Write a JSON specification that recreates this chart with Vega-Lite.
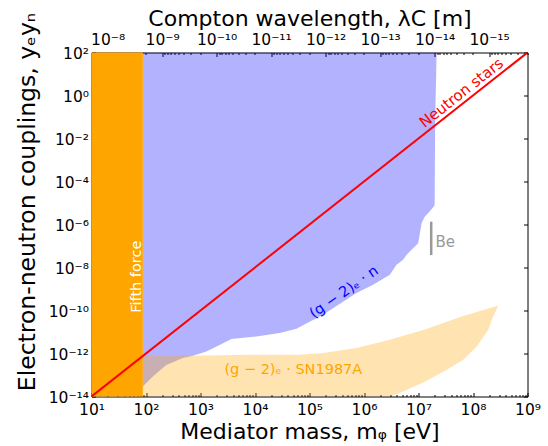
{
  "$schema": "https://vega.github.io/schema/vega-lite/v6.json",
  "width": 436,
  "height": 344,
  "autosize": {"type": "none"},
  "padding": {"left": 91.5, "top": 52.5, "right": 20.5, "bottom": 49.5},
  "config": {
    "font": "DejaVu Sans",
    "view": {"stroke": "black", "strokeWidth": 1},
    "axis": {
      "domain": false, "grid": false, "tickColor": "black", "tickWidth": 1,
      "labelColor": "black", "labelFont": "DejaVu Sans", "labelFontSize": 15.5,
      "titleFont": "DejaVu Sans", "titleFontSize": 22, "titleFontWeight": "normal", "titleColor": "black",
      "labelFlush": false, "labelOverlap": false, "labelBound": false
    }
  },
  "datasets": {
    "blue": [
      {"m": 87.5, "c": 2.95e-14, "c2": 100},
      {"m": 133.7, "c": 8.5e-14, "c2": 100},
      {"m": 235.5, "c": 2.95e-13, "c2": 100},
      {"m": 475, "c": 6.2e-13, "c2": 100},
      {"m": 726, "c": 7.8e-13, "c2": 100},
      {"m": 1279, "c": 1.23e-12, "c2": 100},
      {"m": 2244, "c": 2.5e-12, "c2": 100},
      {"m": 3681, "c": 4.7e-12, "c2": 100},
      {"m": 10600, "c": 6.2e-12, "c2": 100},
      {"m": 28400, "c": 8.9e-12, "c2": 100},
      {"m": 57500, "c": 1.41e-11, "c2": 100},
      {"m": 177000, "c": 6.3e-11, "c2": 100},
      {"m": 728000, "c": 6.5e-10, "c2": 100},
      {"m": 1470000, "c": 1.58e-9, "c2": 100},
      {"m": 2980000, "c": 4.6e-9, "c2": 100},
      {"m": 3950000, "c": 1.35e-8, "c2": 100},
      {"m": 5220000, "c": 2.3e-8, "c2": 100},
      {"m": 6040000, "c": 3.9e-8, "c2": 100},
      {"m": 9860000, "c": 1.35e-7, "c2": 100},
      {"m": 11400000, "c": 1.17e-6, "c2": 100},
      {"m": 13100000, "c": 2.34e-6, "c2": 100},
      {"m": 15100000, "c": 3.4e-6, "c2": 100},
      {"m": 18000000, "c": 5.75e-6, "c2": 100},
      {"m": 19800000, "c": 7.9e-6, "c2": 100},
      {"m": 20200000, "c": 0.054, "c2": 100},
      {"m": 21500000, "c": 100, "c2": 100}
    ],
    "sn": [
      {"m": 87.5, "c": 1e-14, "c2": 7.8e-13},
      {"m": 631, "c": 1e-14, "c2": 7.8e-13},
      {"m": 7943, "c": 1e-14, "c2": 8.7e-13},
      {"m": 66000, "c": 1e-14, "c2": 8.7e-13},
      {"m": 178000, "c": 1e-14, "c2": 1.05e-12},
      {"m": 724000, "c": 1e-14, "c2": 1.78e-12},
      {"m": 2980000, "c": 1e-14, "c2": 4.4e-12},
      {"m": 4550000, "c": 1.45e-14, "c2": 6.0e-12},
      {"m": 13100000, "c": 4.8e-14, "c2": 1.32e-11},
      {"m": 33200000, "c": 1.74e-13, "c2": 3.0e-11},
      {"m": 66200000, "c": 5.1e-13, "c2": 5.5e-11},
      {"m": 117000000, "c": 2.14e-12, "c2": 8.5e-11},
      {"m": 190500000, "c": 1.26e-11, "c2": 1.23e-10},
      {"m": 235000000, "c": 5.2e-11, "c2": 1.41e-10},
      {"m": 287000000, "c": 1.58e-10, "c2": 1.66e-10}
    ]
  },
  "layer": [
    {
      "layer": [
        {
          "data": {"name": "blue"},
          "mark": {"type": "area", "color": "blue", "opacity": 0.3, "clip": true},
          "encoding": {
            "x": {"field": "m", "type": "quantitative",
              "scale": {"type": "log", "domain": [10, 1000000000]},
              "axis": {
                "orient": "bottom",
                "values": [10, 100, 1000, 10000, 100000, 1000000, 10000000, 100000000, 1000000000],
                "tickSize": -4, "labelPadding": 9.5, "labelBaseline": "top", "labelAlign": "center",
                "labelExpr": "'10' + replace(replace(replace(replace(replace(replace(replace(replace(replace(replace(replace('' + round(log(datum.value) / LN10), /-/g, '⁻'), /0/g, '⁰'), /1/g, '¹'), /2/g, '²'), /3/g, '³'), /4/g, '⁴'), /5/g, '⁵'), /6/g, '⁶'), /7/g, '⁷'), /8/g, '⁸'), /9/g, '⁹')",
                "title": "Mediator mass, mᵩ [eV]", "titleX": 218, "titleY": 42, "titleBaseline": "alphabetic", "titleAlign": "center"
              }
            },
            "y": {"field": "c", "type": "quantitative",
              "scale": {"type": "log", "domain": [1e-14, 100]},
              "axis": {
                "orient": "left",
                "values": [1e-14, 1e-12, 1e-10, 1e-8, 1e-6, 1e-4, 0.01, 1, 100],
                "tickSize": -4, "labelPadding": 7, "labelBaseline": "middle", "labelAlign": "right", "labelOffset": 1,
                "labelExpr": "'10' + replace(replace(replace(replace(replace(replace(replace(replace(replace(replace(replace('' + round(log(datum.value) / LN10), /-/g, '⁻'), /0/g, '⁰'), /1/g, '¹'), /2/g, '²'), /3/g, '³'), /4/g, '⁴'), /5/g, '⁵'), /6/g, '⁶'), /7/g, '⁷'), /8/g, '⁸'), /9/g, '⁹')",
                "title": "Electron-neutron couplings, yₑyₙ", "titleFontSize": 23.5, "titleX": -57.5, "titleY": 149, "titleAngle": 270,
                "titleAlign": "center", "titleBaseline": "alphabetic"
              }
            },
            "y2": {"field": "c2"}
          }
        },
        {
          "data": {"name": "sn"},
          "mark": {"type": "area", "color": "orange", "opacity": 0.3, "clip": true},
          "encoding": {
            "x": {"field": "m", "type": "quantitative"},
            "y": {"field": "c", "type": "quantitative"},
            "y2": {"field": "c2"}
          }
        },
        {
          "data": {"values": [{"m": 10, "m2": 87.5, "c": 1e-14, "c2": 100}]},
          "mark": {"type": "rect", "color": "#ffa500"},
          "encoding": {
            "x": {"field": "m", "type": "quantitative"},
            "x2": {"field": "m2"},
            "y": {"field": "c", "type": "quantitative"},
            "y2": {"field": "c2"}
          }
        },
        {
          "data": {"values": [{"m": 10, "c": 1e-14}, {"m": 1000000000, "c": 100}]},
          "mark": {"type": "line", "color": "red", "strokeWidth": 2, "clip": true},
          "encoding": {
            "x": {"field": "m", "type": "quantitative"},
            "y": {"field": "c", "type": "quantitative"}
          }
        },
        {
          "data": {"values": [{"m": 17100000, "c": 1.35e-6, "c2": 3.8e-8}]},
          "mark": {"type": "rule", "color": "#999999", "strokeWidth": 2.5},
          "encoding": {
            "x": {"field": "m", "type": "quantitative"},
            "y": {"field": "c", "type": "quantitative"},
            "y2": {"field": "c2"}
          }
        },
        {
          "data": {"values": [{"m": 61000000, "c": 1.34, "t": "Neutron stars"}]},
          "mark": {"type": "text", "color": "red", "fontSize": 15, "angle": 321.7, "align": "center", "baseline": "middle"},
          "encoding": {
            "x": {"field": "m", "type": "quantitative"},
            "y": {"field": "c", "type": "quantitative"},
            "text": {"field": "t"}
          }
        },
        {
          "data": {"values": [{"m": 67.3, "c": 3.73e-9, "t": "Fifth force"}]},
          "mark": {"type": "text", "color": "white", "fontSize": 14.5, "angle": 270, "align": "center", "baseline": "middle"},
          "encoding": {
            "x": {"field": "m", "type": "quantitative"},
            "y": {"field": "c", "type": "quantitative"},
            "text": {"field": "t"}
          }
        },
        {
          "data": {"values": [{"m": 434000, "c": 6.9e-10, "t": "(g − 2)ₑ · n"}]},
          "mark": {"type": "text", "color": "blue", "fontSize": 14.5, "angle": 325, "align": "center", "baseline": "middle"},
          "encoding": {
            "x": {"field": "m", "type": "quantitative"},
            "y": {"field": "c", "type": "quantitative"},
            "text": {"field": "t"}
          }
        },
        {
          "data": {"values": [{"m": 50500, "c": 1.71e-13, "t": "(g − 2)ₑ · SN1987A"}]},
          "mark": {"type": "text", "color": "orange", "fontSize": 14.5, "align": "center", "baseline": "middle"},
          "encoding": {
            "x": {"field": "m", "type": "quantitative"},
            "y": {"field": "c", "type": "quantitative"},
            "text": {"field": "t"}
          }
        },
        {
          "data": {"values": [{"m": 20500000, "c": 1.53e-7, "t": "Be"}]},
          "mark": {"type": "text", "color": "#999999", "fontSize": 15, "align": "left", "baseline": "middle"},
          "encoding": {
            "x": {"field": "m", "type": "quantitative"},
            "y": {"field": "c", "type": "quantitative"},
            "text": {"field": "t"}
          }
        }
      ]
    },
    {
      "data": {"values": [{"m": 100}]},
      "mark": {"type": "rule", "opacity": 0},
      "encoding": {
        "x": {"field": "m", "type": "quantitative",
          "scale": {"type": "log", "domain": [10, 1000000000]},
          "axis": {
            "orient": "bottom", "tickSize": -2, "labels": false, "title": null,
            "values": [20,30,40,50,60,70,80,90,200,300,400,500,600,700,800,900,2000,3000,4000,5000,6000,7000,8000,9000,20000,30000,40000,50000,60000,70000,80000,90000,200000,300000,400000,500000,600000,700000,800000,900000,2000000,3000000,4000000,5000000,6000000,7000000,8000000,9000000,20000000,30000000,40000000,50000000,60000000,70000000,80000000,90000000,200000000,300000000,400000000,500000000,600000000,700000000,800000000,900000000]
          }
        }
      }
    },
    {
      "data": {"values": [{"lam": 1e-10}]},
      "mark": {"type": "rule", "opacity": 0},
      "encoding": {
        "x": {"field": "lam", "type": "quantitative",
          "scale": {"type": "log", "domain": [1.973e-16, 1.973e-8], "reverse": true},
          "axis": {
            "orient": "top",
            "values": [1e-8, 1e-9, 1e-10, 1e-11, 1e-12, 1e-13, 1e-14, 1e-15],
            "tickSize": -4, "labelPadding": 12.5, "labelBaseline": "alphabetic", "labelAlign": "center",
            "labelExpr": "'10' + replace(replace(replace(replace(replace(replace(replace(replace(replace(replace(replace('' + round(log(datum.value) / LN10), /-/g, '⁻'), /0/g, '⁰'), /1/g, '¹'), /2/g, '²'), /3/g, '³'), /4/g, '⁴'), /5/g, '⁵'), /6/g, '⁶'), /7/g, '⁷'), /8/g, '⁸'), /9/g, '⁹')",
            "title": "Compton wavelength, λC [m]", "titleX": 218, "titleY": -27.5, "titleBaseline": "alphabetic", "titleAlign": "center"
          }
        }
      }
    },
    {
      "data": {"values": [{"lam": 1e-10}]},
      "mark": {"type": "rule", "opacity": 0},
      "encoding": {
        "x": {"field": "lam", "type": "quantitative",
          "scale": {"type": "log", "domain": [1.973e-16, 1.973e-8], "reverse": true},
          "axis": {
            "orient": "top", "tickSize": -2, "labels": false, "title": null,
            "values": [2e-16,3e-16,4e-16,5e-16,6e-16,7e-16,8e-16,9e-16,2e-15,3e-15,4e-15,5e-15,6e-15,7e-15,8e-15,9e-15,2e-14,3e-14,4e-14,5e-14,6e-14,7e-14,8e-14,9e-14,2e-13,3e-13,4e-13,5e-13,6e-13,7e-13,8e-13,9e-13,2e-12,3e-12,4e-12,5e-12,6e-12,7e-12,8e-12,9e-12,2e-11,3e-11,4e-11,5e-11,6e-11,7e-11,8e-11,9e-11,2e-10,3e-10,4e-10,5e-10,6e-10,7e-10,8e-10,9e-10,2e-9,3e-9,4e-9,5e-9,6e-9,7e-9,8e-9,9e-9]
          }
        }
      }
    },
    {
      "data": {"values": [{"c": 1}]},
      "mark": {"type": "rule", "opacity": 0},
      "encoding": {
        "y": {"field": "c", "type": "quantitative",
          "scale": {"type": "log", "domain": [1e-14, 100]},
          "axis": {
            "orient": "right", "tickSize": -4, "labels": false, "title": null,
            "values": [1e-14, 1e-12, 1e-10, 1e-8, 1e-6, 1e-4, 0.01, 1, 100]
          }
        }
      }
    }
  ],
  "resolve": {
    "scale": {"x": "independent", "y": "independent"},
    "axis": {"x": "independent", "y": "independent"}
  }
}
